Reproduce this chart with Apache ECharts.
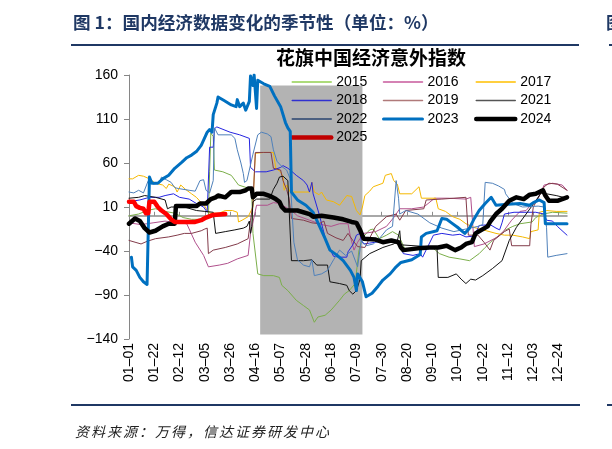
<!DOCTYPE html>
<html><head><meta charset="utf-8">
<script src="https://cdn.jsdelivr.net/npm/echarts@6.0.0/dist/echarts.min.js"></script>
<style>
html,body{margin:0;padding:0;background:#fff;width:612px;height:449px;overflow:hidden}
body{position:relative}
#chart{position:absolute;left:0;top:0;width:612px;height:449px}
.hdr{position:absolute;left:73px;top:13px;font-family:'Noto Sans CJK SC';font-weight:bold;font-size:17.6px;line-height:17.6px;color:#1F3864;white-space:nowrap}
.rule{position:absolute;height:2px;background:#1F3864}
.src{position:absolute;left:75px;top:424px;font-family:'Noto Sans CJK SC';font-style:italic;font-size:14px;line-height:14px;letter-spacing:2px;color:#222;white-space:nowrap}
.cut{position:absolute;left:606px;top:13px;font-family:'Noto Sans CJK SC';font-weight:bold;font-size:17.6px;line-height:17.6px;color:#1F3864;white-space:nowrap}
</style></head>
<body>
<div id="chart"></div>
<div class="hdr">图 1：国内经济数据变化的季节性（单位：%）</div>
<div class="rule" style="left:71px;top:44px;width:508px"></div>
<div class="cut">图</div>
<div class="rule" style="left:609px;top:44px;width:3px"></div>
<div class="rule" style="left:71px;top:404px;width:509px"></div>
<div class="rule" style="left:607px;top:404px;width:5px"></div>
<div class="src">资料来源：万得，信达证券研发中心</div>
<script>
// ---- tick labels (x axis: day of year, one label every 21 days) ----
const tickLabels = ['01–01','01–22','02–12','03–05','03–26','04–16','05–07','05–28','06–18','07–09','07–30','08–20','09–10','10–01','10–22','11–12','12–03','12–24'];
const tickStep = 21;
const dayMax = 364;
const yTicks = [-140,-90,-40,10,60,110,160];
// ---- shaded period ----
const shadeStart = 109, shadeEnd = 194, shadeLow = -135, shadeHigh = 148;
// ---- series values: [day of year, index value] ----
const s2015 = [[0,0],[8,2],[15,6],[22,8],[30,5],[38,3],[45,-2],[52,-4],[60,-4],[66,-2],[67,50],[68,94],[70,90],[71,52],[78,50],[85,46],[91,35],[100,31],[102,26],[103,-20],[107,-66],[112,-68],[120,-68],[125,-70],[127,-79],[132,-85],[139,-96],[145,-102],[150,-107],[154,-121],[157,-115],[163,-113],[168,-107],[175,-96],[179,-89],[183,-85],[188,-77],[191,-40],[194,-25],[200,-16],[203,-15],[208,-26],[214,-22],[219,-18],[224,-22],[229,-37],[240,-37],[253,-37],[258,-43],[266,-47],[275,-49],[283,-51],[291,-43],[296,-36],[302,-28],[308,-22],[313,-16],[319,-12],[325,-9],[335,-7],[338,-2],[344,2],[352,4],[364,3]];
const s2016 = [[0,-8],[10,-10],[20,-8],[30,-6],[40,-8],[48,-9],[55,-30],[62,-45],[66,-58],[75,-56],[82,-54],[90,-49],[99,-45],[101,-20],[104,-1],[106,12],[115,12],[120,15],[125,14],[130,10],[135,6],[140,0],[150,-5],[160,-10],[168,-12],[175,-9],[182,-9],[184,-24],[187,-39],[190,-30],[195,-20],[205,-18],[214,-12],[220,-2],[225,8],[235,8],[245,10],[254,20],[265,20],[280,19],[284,21],[287,-35],[295,-32],[305,-25],[311,-18],[318,-5],[325,5],[330,6],[335,14],[340,20],[345,35],[352,37],[360,35],[364,29]];
const s2017 = [[0,42],[3,42],[8,46],[12,45],[17,42],[22,37],[28,35],[31,31],[33,36],[38,33],[40,27],[43,35],[47,30],[52,25],[56,21],[60,15],[63,11],[65,6],[67,3],[75,3],[80,6],[86,6],[90,4],[91,-7],[94,-5],[99,-1],[103,10],[104,44],[105,71],[112,72],[120,72],[122,54],[126,50],[128,44],[129,29],[131,35],[134,27],[147,27],[150,27],[152,38],[154,27],[158,24],[160,27],[164,18],[170,16],[175,12],[181,23],[185,22],[189,6],[192,1],[194,10],[196,23],[200,28],[203,33],[211,37],[213,46],[218,48],[220,40],[223,36],[225,25],[235,25],[241,33],[243,20],[255,20],[257,8],[263,5],[269,-1],[275,-4],[280,-9],[286,-13],[297,-17],[305,-20],[312,-22],[319,-22],[327,-24],[333,-26],[334,-18],[340,-16],[341,4],[347,6],[355,5],[364,5]];
const s2018 = [[0,16],[9,18],[17,21],[25,21],[30,23],[37,25],[42,21],[50,19],[56,14],[62,10],[65,4],[66,3],[67,78],[70,78],[71,99],[73,101],[84,95],[92,92],[100,88],[101,55],[105,50],[114,50],[120,52],[126,55],[128,57],[132,54],[134,52],[139,46],[145,40],[148,35],[150,27],[152,38],[153,25],[158,2],[164,-30],[170,-46],[175,-47],[181,-47],[182,-41],[186,-33],[189,-22],[192,-20],[193,-28],[195,-32],[200,-31],[210,-29],[217,-28],[224,-29],[228,-43],[236,-45],[242,-43],[244,-47],[253,-22],[260,-20],[269,-22],[275,-21],[280,-24],[287,-23],[291,-11],[300,-10],[305,-14],[308,-16],[310,-8],[312,2],[320,4],[330,4],[338,4],[345,2],[347,-5],[352,-6],[356,-12],[364,-22]];
const s2019 = [[0,-28],[5,-30],[10,-32],[15,-29],[22,-26],[33,-24],[40,-22],[46,-20],[52,-20],[60,-17],[63,-15],[65,-14],[66,-43],[70,-39],[80,-36],[90,-32],[99,-26],[101,-5],[103,14],[105,72],[112,72],[118,72],[120,54],[126,52],[128,40],[131,30],[133,20],[135,-3],[145,-5],[152,-8],[158,-9],[162,-6],[165,-20],[172,-25],[178,-28],[182,-20],[186,-28],[190,-35],[196,-36],[205,-12],[214,-1],[222,2],[225,-5],[230,6],[245,8],[247,18],[260,19],[270,20],[280,21],[282,-22],[290,-22],[295,-30],[300,-39],[303,-28],[312,-18],[316,-15],[318,-34],[333,-34],[334,-10],[336,10],[345,33],[349,37],[356,36],[364,29]];
const s2021 = [[0,20],[8,21],[13,23],[22,21],[30,18],[32,8],[35,10],[46,10],[56,6],[63,5],[70,4],[72,-20],[80,-18],[88,-16],[95,-14],[98,-12],[100,-6],[101,-20],[102,-12],[103,16],[106,19],[117,19],[120,30],[123,37],[125,44],[128,45],[132,40],[135,-51],[145,-51],[152,-50],[156,-56],[165,-56],[167,-75],[175,-77],[181,-79],[183,-85],[186,-89],[189,-85],[192,-72],[193,-51],[200,-43],[211,-36],[220,-32],[223,-28],[225,-17],[226,-33],[247,-35],[256,-37],[257,-70],[265,-70],[272,-66],[276,-72],[280,-77],[284,-72],[288,-73],[294,-68],[302,-60],[310,-51],[316,-28],[322,-13],[330,2],[338,17],[344,29],[347,25],[355,23],[364,20]];
const s2022 = [[0,27],[4,26],[8,29],[12,26],[16,40],[19,40],[20,36],[25,37],[27,44],[31,41],[35,38],[38,32],[41,31],[50,29],[55,28],[59,40],[62,41],[64,29],[67,26],[70,40],[71,100],[74,92],[85,92],[88,88],[90,75],[93,60],[95,48],[96,38],[98,40],[100,52],[103,70],[107,92],[110,95],[115,93],[118,90],[120,75],[123,62],[127,56],[131,52],[134,42],[137,-30],[140,-50],[145,-56],[150,-58],[152,-50],[154,-68],[160,-66],[165,-62],[170,-50],[175,-39],[180,-45],[185,-40],[190,-58],[193,-28],[197,-34],[203,-32],[208,-26],[214,-16],[219,-12],[222,40],[224,20],[225,2],[230,6],[240,2],[250,-8],[260,-14],[270,-18],[280,-15],[290,-12],[294,-10],[296,38],[302,37],[307,34],[312,30],[313,25],[319,14],[327,10],[340,11],[345,10],[347,-13],[348,-47],[355,-45],[364,-43]];
const s2023 = [[2,-47],[3,-58],[6,-62],[9,-70],[12,-75],[15,-78],[16,-78],[17,44],[19,37],[24,37],[28,42],[33,46],[38,54],[44,61],[48,66],[52,69],[56,73],[60,80],[62,86],[65,95],[67,98],[69,95],[70,115],[73,128],[74,135],[79,131],[85,126],[89,124],[90,132],[92,124],[95,128],[97,120],[100,130],[101,159],[103,148],[104,160],[106,122],[107,154],[112,150],[117,147],[121,136],[126,124],[130,106],[132,100],[134,96],[135,27],[140,18],[147,12],[153,4],[158,-11],[163,-26],[167,-39],[173,-45],[178,-51],[184,-62],[187,-70],[189,-85],[190,-66],[194,-75],[197,-92],[202,-88],[207,-80],[211,-73],[217,-66],[222,-58],[226,-53],[235,-50],[242,-44],[243,-24],[247,-20],[256,-17],[260,-3],[264,-4],[268,-8],[273,-13],[279,-20],[283,-14],[287,-3],[291,6],[296,14],[301,21],[305,12],[315,13],[325,14],[333,12],[336,15],[341,18],[345,15],[346,-9],[352,-9],[364,-9]];
const s2024 = [[0,-9],[5,-3],[9,-6],[13,-14],[17,-19],[22,-17],[28,-12],[33,-9],[38,-9],[39,11],[47,11],[56,11],[59,14],[64,14],[68,19],[72,21],[74,23],[80,21],[85,27],[92,27],[97,29],[99,31],[102,31],[103,21],[106,25],[112,25],[118,22],[122,19],[125,16],[127,10],[130,6],[140,6],[150,2],[153,-1],[160,0],[170,-2],[178,-4],[185,-7],[189,-8],[192,-16],[195,-26],[205,-27],[211,-30],[218,-28],[224,-30],[226,-36],[228,-39],[240,-37],[250,-36],[257,-36],[264,-34],[271,-39],[276,-36],[280,-32],[285,-30],[288,-20],[293,-16],[298,-12],[300,-7],[305,2],[310,8],[316,17],[322,21],[328,19],[333,24],[338,25],[344,29],[346,23],[349,17],[356,17],[364,21]];
const s2025 = [[0,16],[4,16],[6,11],[9,9],[12,8],[14,3],[16,3],[17,16],[21,16],[24,10],[27,6],[31,2],[35,-4],[38,-7],[45,-7],[55,-7],[60,-5],[64,-2],[70,1],[80,2]];

const seriesDefs = [
  {name:'2015', data:s2015, color:'#7BAE4A', legend:'#92D050', width:1},
  {name:'2016', data:s2016, color:'#B0508C', legend:'#C85A9C', width:1},
  {name:'2017', data:s2017, color:'#F5B800', legend:'#FFC000', width:1},
  {name:'2018', data:s2018, color:'#2424E0', legend:'#3030D0', width:1},
  {name:'2019', data:s2019, color:'#823B4A', legend:'#B07A7A', width:1},
  {name:'2021', data:s2021, color:'#111111', legend:'#555555', width:1},
  {name:'2022', data:s2022, color:'#4F80BA', legend:'#2A4470', width:1},
  {name:'2023', data:s2023, color:'#0070C0', legend:'#0070C0', width:3},
  {name:'2024', data:s2024, color:'#000000', legend:'#000000', width:4.5},
  {name:'2025', data:s2025, color:'#FF0000', legend:'#C00000', width:4.5}
];
const legendCols = [['2015','2018','2022','2025'],['2016','2019','2023'],['2017','2021','2024']];
const legendLeft = [290,382,474];

const tickDays = tickLabels.map((_, i) => i * tickStep);
const font = "'Liberation Sans', Arial, sans-serif";
const chart = echarts.init(document.getElementById('chart'), null, {renderer:'canvas'});
const byName = {};
seriesDefs.forEach(d => byName[d.name] = d);

const series = [{
  name:'_shade', type:'line', data:[], z:1, silent:true, symbol:'none',
  markArea:{silent:true, itemStyle:{color:'#B3B3B3'},
    data:[[{xAxis:shadeStart, yAxis:shadeLow},{xAxis:shadeEnd, yAxis:shadeHigh}]]}
}].concat(seriesDefs.map((d, i) => ({
  name:d.name, type:'line', data:d.data, symbol:'none', showSymbol:false,
  z:3 + i, lineStyle:{color:d.color, width:d.width, cap:'round', join:'round'},
  itemStyle:{color:d.color}, emphasis:{disabled:true}
})));

chart.setOption({
  animation:false,
  title:{text:'花旗中国经济意外指数', left:276, top:48, padding:0,
    textStyle:{fontFamily:"'Noto Sans CJK SC'", fontSize:19, fontWeight:'bold', color:'#000'}},
  legend: legendCols.map((col, i) => ({
    orient:'vertical', left:legendLeft[i], top:75, padding:0,
    itemWidth:39, itemHeight:14, itemGap:4.5, selectedMode:false,
    textStyle:{fontFamily:font, fontSize:14, color:'#000'},
    data: col.map(n => ({name:n,
      itemStyle:{color:'rgba(0,0,0,0)', borderWidth:0, opacity:0},
      lineStyle:{color:byName[n].legend, width:Math.max(byName[n].width, 1.5), cap:'round'}}))
  })),
  grid:{left:129, right:45, top:75, bottom:110},
  xAxis:[{
    type:'value', min:0, max:dayMax, interval:tickStep,
    axisLine:{show:true, onZero:true, lineStyle:{color:'#8C8C8C', width:1.5}},
    axisTick:{show:true, inside:true, length:4, customValues:tickDays, lineStyle:{color:'#8C8C8C'}},
    axisLabel:{show:false}, splitLine:{show:false}
  },{
    type:'value', min:0, max:dayMax, interval:tickStep, position:'bottom',
    axisLine:{show:false, onZero:false}, axisTick:{show:false}, splitLine:{show:false},
    axisLabel:{show:true, rotate:90, margin:4, fontFamily:font, fontSize:14, color:'#000',
      customValues:tickDays,
      formatter:v => { const k = v / tickStep; return Number.isInteger(k) && tickLabels[k] ? tickLabels[k] : ''; }}
  }],
  yAxis:{
    type:'value', min:yTicks[0], max:yTicks[yTicks.length-1],
    axisLine:{show:true, lineStyle:{color:'#868686', width:1}},
    axisTick:{show:true, length:5, customValues:yTicks, lineStyle:{color:'#868686'}},
    axisLabel:{show:true, customValues:yTicks, margin:11, fontFamily:font, fontSize:14, color:'#000',
      formatter:v => String(v).replace('-', '−')},
    splitLine:{show:false}
  },
  series: series
});
</script>
</body></html>
